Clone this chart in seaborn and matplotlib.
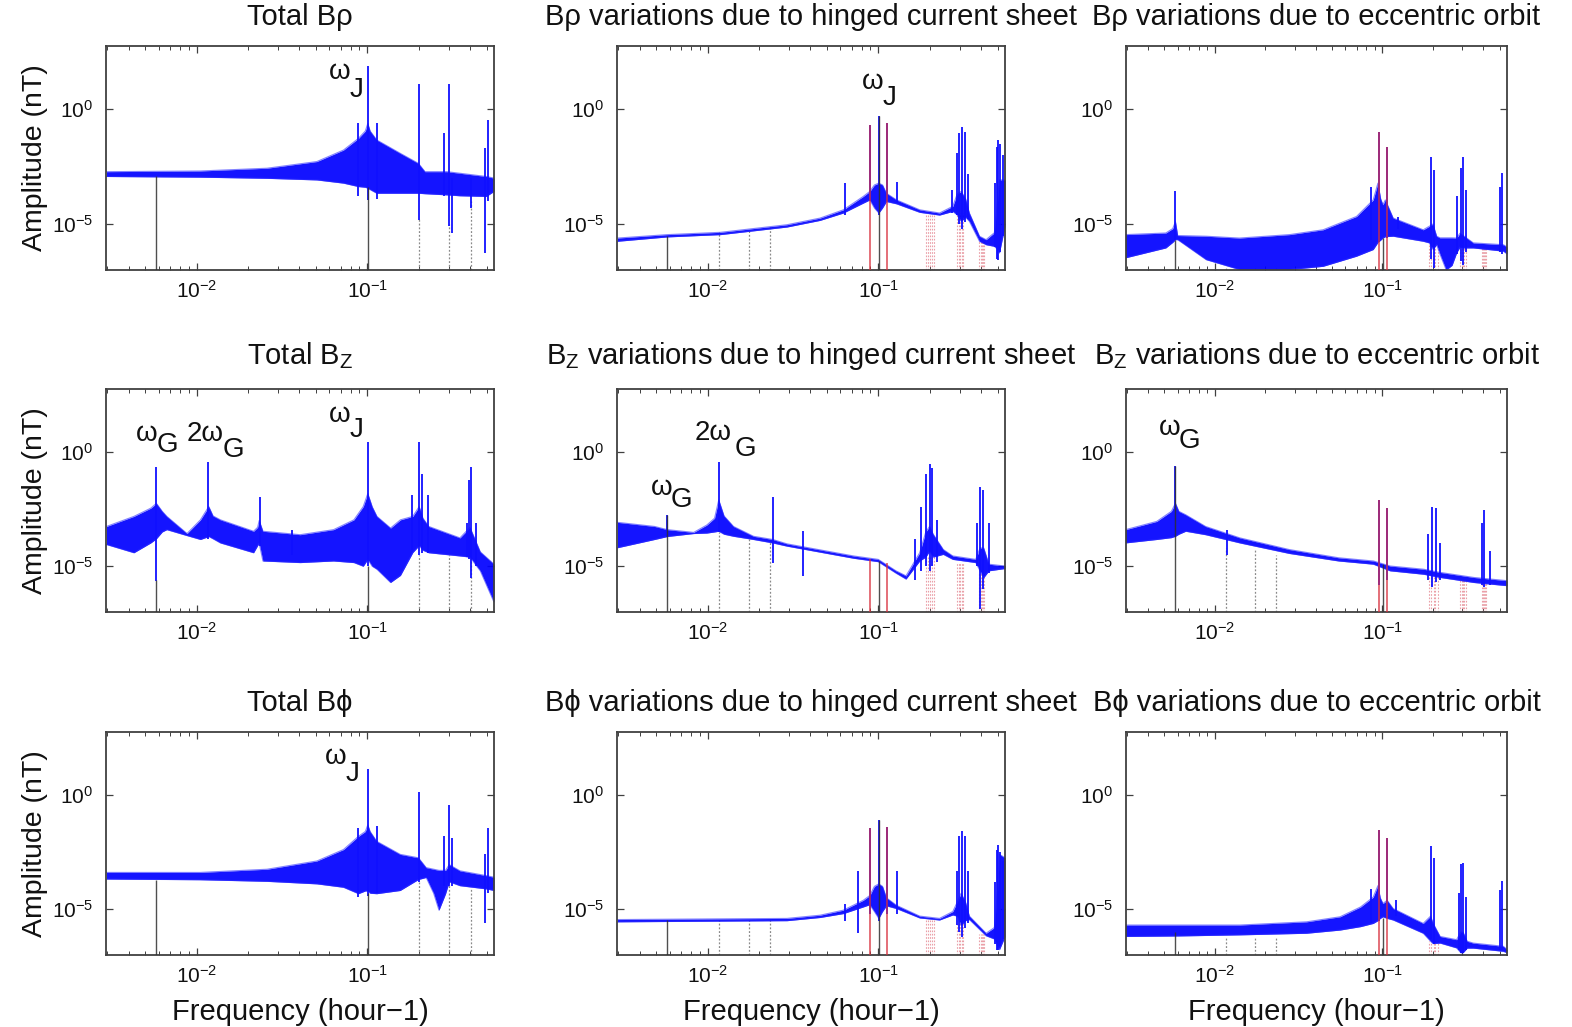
import numpy as np
import matplotlib
matplotlib.use("Agg")
import matplotlib.pyplot as plt
import seaborn as sns
from matplotlib.ticker import LogLocator, NullLocator, NullFormatter, FixedLocator

# ---------------- data (frequencies in hour^-1, amplitudes as log10(nT)) ----------------
W_G = 0.00582
W_J = 0.1008
C2 = [0.190, 0.196, 0.2016, 0.207, 0.213]
C3 = [0.291, 0.297, 0.3024, 0.308, 0.314]
C4 = [0.392, 0.398, 0.4032, 0.409, 0.415]

# Row 1 / col 1 : Total B_rho
F_11 = [0.00297, 0.0105, 0.0259, 0.0507, 0.0726, 0.0889, 0.0975, 0.1008, 0.104, 0.1137, 0.156, 0.1995, 0.218, 0.2926, 0.3494, 0.498, 0.553]
HI_11 = [-2.72, -2.69, -2.57, -2.28, -1.78, -1.27, -0.95, -0.62, -0.95, -1.34, -1.92, -2.36, -2.72, -2.72, -2.79, -2.93, -3.0]
LO_11 = [-2.93, -2.96, -3.01, -3.08, -3.22, -3.37, -3.40, -3.44, -3.5, -3.66, -3.66, -3.66, -3.68, -3.73, -3.77, -3.80, -3.58]
SF_11 = [0.0887, 0.1008, 0.1137, 0.2016, 0.2834, 0.3024, 0.3135, 0.4032, 0.491, 0.513]
ST_11 = [-0.62, 1.86, -0.58, 1.11, -1.05, 1.11, -3.0, -3.0, -1.71, -0.48]
SB_11 = [-3.80, -3.95, -3.9, -4.81, -3.8, -5.1, -5.4, -4.3, -6.26, -4.0]
BF_11 = [W_G, W_J]; BT_11 = [-2.9, -3.4]
DF_11 = [0.2016, 0.3024, 0.4032]; DT_11 = [-4.8, -5.0, -4.0]
RF_11 = []; RT_11 = []
RDF_11 = []; RDT_11 = []

# Row 1 / col 2 : B_rho hinged current sheet
F_12 = [0.00297, 0.00582, 0.0119, 0.0292, 0.0457, 0.0625, 0.0817, 0.0893, 0.095, 0.1008, 0.106, 0.1117, 0.128, 0.175, 0.2287, 0.2735, 0.29, 0.306, 0.325, 0.342, 0.392, 0.4285, 0.479, 0.50, 0.513, 0.553]
HI_12 = [-5.61, -5.46, -5.36, -5.03, -4.74, -4.38, -3.80, -3.58, -3.3, -3.22, -3.3, -3.66, -3.95, -4.38, -4.52, -4.23, -3.7, -3.58, -3.9, -4.52, -5.53, -5.68, -5.38, -4.0, -3.08, -3.08]
LO_12 = [-5.75, -5.56, -5.46, -5.13, -4.84, -4.52, -4.09, -3.95, -4.3, -4.52, -4.3, -4.02, -4.12, -4.49, -4.61, -4.45, -4.6, -4.88, -4.7, -4.88, -5.75, -5.90, -5.97, -6.1, -6.26, -5.1]
SF_12 = [0.0641, 0.0892, 0.1008, 0.1124, 0.129, 0.270, 0.290, 0.297, 0.309, 0.3226, 0.335, 0.485, 0.495, 0.505, 0.52, 0.535]
ST_12 = [-3.22, -0.69, -0.30, -0.59, -3.15, -3.5, -1.9, -1.05, -0.79, -0.98, -2.8, -3.2, -1.63, -1.34, -1.5, -2.0]
SB_12 = [-4.6, -4.0, -4.6, -4.0, -4.1, -4.5, -4.6, -5.0, -5.2, -4.9, -4.8, -6.0, -6.5, -6.55, -6.2, -5.5]
BF_12 = [W_G, W_J]; BT_12 = [-5.5, -0.30]
DF_12 = [0.01164, 0.01746, 0.02328]; DT_12 = [-5.36, -5.2, -5.1]
RF_12 = [0.0892, 0.1124]; RT_12 = [-0.69, -0.59]
RDF_12 = C2 + C3 + C4; RDT_12 = [-4.6] * 5 + [-4.5] * 5 + [-5.7] * 5

# Row 1 / col 3 : B_rho eccentric orbit
F_13 = [0.00293, 0.0051, 0.0056, 0.00582, 0.006, 0.00887, 0.014, 0.0279, 0.0442, 0.07, 0.088, 0.0939, 0.0975, 0.1006, 0.104, 0.1158, 0.175, 0.19, 0.2, 0.2104, 0.22, 0.24, 0.26, 0.2767, 0.29, 0.303, 0.348, 0.526, 0.553]
HI_13 = [-5.46, -5.39, -5.2, -4.9, -5.5, -5.53, -5.61, -5.46, -5.25, -4.67, -3.95, -3.22, -3.9, -4.16, -3.95, -4.74, -5.25, -5.1, -5.0, -5.53, -5.6, -5.6, -5.6, -5.61, -5.4, -5.5, -5.82, -5.90, -6.0]
LO_13 = [-6.47, -6.04, -5.8, -5.68, -5.68, -6.55, -6.98, -6.98, -6.84, -6.40, -6.11, -5.8, -5.7, -5.61, -5.55, -5.53, -5.75, -5.82, -6.1, -5.90, -6.3, -7.0, -6.8, -6.26, -6.0, -6.04, -6.04, -6.18, -6.3]
SF_13 = [0.00582, 0.0853, 0.095, 0.1066, 0.124, 0.1937, 0.2018, 0.2797, 0.293, 0.3026, 0.316, 0.50, 0.516]
ST_13 = [-3.58, -3.4, -0.98, -1.66, -4.7, -2.07, -2.64, -3.80, -2.57, -2.07, -3.51, -3.37, -2.79]
SB_13 = [-5.7, -5.7, -5.8, -5.6, -5.2, -6.5, -6.9, -6.3, -6.6, -6.8, -6.2, -6.2, -6.3]
BF_13 = [W_G, W_J]; BT_13 = [-5.7, -5.6]
DF_13 = [0.01164, 0.01746, 0.02328]; DT_13 = [-6.9, -6.9, -6.9]
RF_13 = [0.095, 0.1066]; RT_13 = [-0.98, -1.66]
RDF_13 = C2 + C3 + C4; RDT_13 = [-5.9] * 5 + [-6.0] * 5 + [-6.05] * 5

# Row 2 / col 1 : Total B_Z
F_21 = [0.00297, 0.0043, 0.0054, 0.00582, 0.0063, 0.0067, 0.0088, 0.01055, 0.0118, 0.0125, 0.0138, 0.0216, 0.0228, 0.0233, 0.0245, 0.0405, 0.0635, 0.0836, 0.0948, 0.1008, 0.107, 0.114, 0.137, 0.1566, 0.185, 0.2016, 0.212, 0.2294, 0.3494, 0.400, 0.4596, 0.553]
HI_21 = [-3.26, -2.82, -2.46, -2.25, -2.6, -2.82, -3.57, -2.97, -2.39, -2.8, -2.97, -3.47, -3.3, -3.0, -3.47, -3.62, -3.40, -2.97, -2.39, -1.82, -2.4, -2.82, -3.33, -2.97, -2.82, -2.39, -2.9, -3.26, -3.76, -3.3, -4.37, -4.91]
LO_21 = [-4.05, -4.41, -3.98, -3.8, -3.5, -3.40, -3.66, -3.83, -3.7, -3.8, -3.98, -4.41, -4.1, -4.0, -4.77, -4.84, -4.77, -4.84, -5.0, -4.7, -5.0, -5.13, -5.71, -5.4, -4.4, -4.1, -4.3, -4.41, -4.55, -4.6, -5.2, -6.57]
SF_21 = [0.00582, 0.01164, 0.0237, 0.0363, 0.1008, 0.1841, 0.2016, 0.2094, 0.2265, 0.384, 0.396, 0.4032, 0.4366]
ST_21 = [-0.66, -0.45, -1.96, -3.40, 0.42, -1.89, 0.42, -0.95, -1.89, -3.11, -1.24, -0.66, -3.11]
SB_21 = [-5.63, -3.8, -4.1, -4.5, -5.0, -4.3, -4.5, -4.4, -4.4, -4.6, -4.7, -5.5, -5.0]
BF_21 = [W_G, W_J]; BT_21 = [-5.6, -5.0]
DF_21 = [0.2016, 0.3024, 0.4032]; DT_21 = [-4.5, -4.5, -4.6]
RF_21 = []; RT_21 = []
RDF_21 = []; RDT_21 = []

# Row 2 / col 2 : B_Z hinged current sheet
F_22 = [0.00297, 0.0049, 0.00582, 0.0083, 0.0099, 0.011, 0.01164, 0.0125, 0.0142, 0.0186, 0.0241, 0.0292, 0.0717, 0.1, 0.127, 0.1455, 0.175, 0.19, 0.2, 0.21, 0.2406, 0.2735, 0.3728, 0.395, 0.415, 0.445, 0.553]
HI_22 = [-3.08, -3.26, -3.4, -3.52, -3.2, -2.9, -2.10, -2.8, -3.26, -3.69, -3.83, -4.02, -4.55, -4.70, -5.2, -5.42, -4.41, -3.5, -3.26, -3.6, -4.27, -4.55, -4.70, -4.2, -4.2, -4.91, -4.99]
LO_22 = [-4.19, -3.83, -3.7, -3.57, -3.55, -3.5, -3.47, -3.6, -3.69, -3.83, -3.98, -4.12, -4.65, -4.80, -5.30, -5.56, -4.77, -4.6, -4.34, -4.6, -4.48, -4.70, -4.84, -5.2, -5.5, -5.20, -5.10]
SF_22 = [0.00582, 0.01164, 0.0241, 0.0362, 0.164, 0.1792, 0.19, 0.2, 0.2055, 0.2211, 0.379, 0.396, 0.41, 0.445]
ST_22 = [-2.75, -0.45, -1.96, -3.47, -3.8, -2.39, -0.95, -0.52, -0.69, -2.96, -3.11, -1.53, -1.67, -3.11]
SB_22 = [-3.7, -3.5, -4.84, -5.42, -5.6, -5.2, -5.0, -5.2, -5.0, -4.8, -5.0, -6.85, -6.0, -5.3]
BF_22 = [W_G, W_J]; BT_22 = [-2.75, -4.75]
DF_22 = [0.01164, 0.01746, 0.02328]; DT_22 = [-3.5, -3.8, -3.95]
RF_22 = [0.0892, 0.1124]; RT_22 = [-4.7, -4.85]
RDF_22 = C2 + C3 + C4; RDT_22 = [-4.6] * 5 + [-4.8] * 5 + [-5.3] * 5

# Row 2 / col 3 : B_Z eccentric orbit
F_23 = [0.00293, 0.0045, 0.0055, 0.00582, 0.0061, 0.0067, 0.0088, 0.0141, 0.0278, 0.0548, 0.0882, 0.111, 0.176, 0.2208, 0.3506, 0.553]
HI_23 = [-3.40, -3.04, -2.6, -2.25, -2.6, -2.75, -3.26, -3.76, -4.27, -4.63, -4.77, -4.99, -5.13, -5.27, -5.49, -5.63]
LO_23 = [-3.98, -3.83, -3.75, -3.69, -3.6, -3.47, -3.62, -3.98, -4.44, -4.77, -4.91, -5.20, -5.35, -5.49, -5.71, -5.85]
SF_23 = [0.00582, 0.0118, 0.095, 0.1066, 0.186, 0.197, 0.2097, 0.22, 0.3896, 0.4034, 0.435]
ST_23 = [-0.63, -3.4, -2.10, -2.46, -3.6, -2.39, -2.46, -3.97, -3.11, -2.54, -4.33]
SB_23 = [-3.7, -4.5, -5.8, -5.6, -5.6, -5.9, -5.7, -5.6, -5.8, -5.9, -5.8]
BF_23 = [W_G, W_J]; BT_23 = [-0.63, -4.9]
DF_23 = [0.01164, 0.01746, 0.02328]; DT_23 = [-4.2, -4.3, -4.5]
RF_23 = [0.095, 0.1066]; RT_23 = [-2.10, -2.46]
RDF_23 = C2 + C3 + C4; RDT_23 = [-5.4] * 5 + [-5.6] * 5 + [-5.7] * 5

# Row 3 / col 1 : Total B_phi
F_31 = [0.00297, 0.0105, 0.0259, 0.0507, 0.0726, 0.0889, 0.0975, 0.1008, 0.104, 0.1137, 0.156, 0.1995, 0.2215, 0.245, 0.2633, 0.2878, 0.3024, 0.3494, 0.498, 0.553]
HI_31 = [-3.39, -3.39, -3.25, -2.89, -2.39, -1.81, -1.6, -1.31, -1.6, -2.03, -2.60, -2.75, -3.18, -3.25, -3.3, -3.3, -3.05, -3.32, -3.53, -3.6]
LO_31 = [-3.68, -3.71, -3.78, -3.89, -4.04, -4.32, -4.2, -4.2, -4.3, -4.32, -4.18, -3.7, -3.61, -4.3, -5.04, -4.32, -3.8, -3.97, -4.11, -4.18]
SF_31 = [0.0887, 0.1008, 0.1137, 0.2016, 0.2834, 0.3024, 0.3135, 0.491, 0.513]
ST_31 = [-1.45, 1.14, -1.38, 0.13, -1.81, -0.45, -1.88, -2.60, -1.45]
SB_31 = [-4.45, -4.4, -4.3, -3.8, -4.0, -4.0, -4.0, -5.62, -4.3]
BF_31 = [W_G, W_J]; BT_31 = [-3.7, -4.3]
DF_31 = [0.2016, 0.3024, 0.4032]; DT_31 = [-3.8, -3.9, -4.1]
RF_31 = []; RT_31 = []
RDF_31 = []; RDT_31 = []

# Row 3 / col 2 : B_phi hinged current sheet
F_32 = [0.00297, 0.0292, 0.0457, 0.0625, 0.0817, 0.0893, 0.095, 0.1008, 0.106, 0.1117, 0.128, 0.175, 0.2287, 0.2735, 0.29, 0.306, 0.325, 0.342, 0.4285, 0.479, 0.50, 0.513, 0.553]
HI_32 = [-5.45, -5.40, -5.26, -5.04, -4.61, -4.40, -4.0, -3.89, -4.0, -4.5, -4.83, -5.3, -5.40, -5.1, -4.7, -4.3, -4.7, -5.3, -6.05, -5.8, -4.2, -2.60, -2.75]
LO_32 = [-5.55, -5.50, -5.36, -5.19, -4.90, -4.8, -5.1, -5.40, -5.1, -4.85, -4.97, -5.38, -5.47, -5.25, -5.3, -5.7, -5.5, -5.45, -6.16, -6.3, -6.6, -6.77, -6.2]
SF_32 = [0.0641, 0.0763, 0.0892, 0.1008, 0.1124, 0.128, 0.29, 0.297, 0.309, 0.3226, 0.335, 0.485, 0.495, 0.505, 0.52, 0.535]
ST_32 = [-4.75, -3.33, -1.45, -1.09, -1.42, -3.33, -3.33, -1.81, -1.59, -1.81, -3.33, -3.8, -2.39, -2.2, -2.5, -2.9]
SB_32 = [-5.5, -6.05, -5.2, -5.5, -5.2, -5.2, -5.7, -6.0, -6.2, -5.8, -5.6, -6.5, -6.77, -6.77, -6.6, -6.3]
BF_32 = [W_G, W_J]; BT_32 = [-5.45, -1.09]
DF_32 = [0.01164, 0.01746, 0.02328]; DT_32 = [-5.45, -5.45, -5.43]
RF_32 = [0.0892, 0.1124]; RT_32 = [-1.45, -1.42]
RDF_32 = C2 + C3 + C4; RDT_32 = [-5.4] * 5 + [-5.5] * 5 + [-6.1] * 5

# Row 3 / col 3 : B_phi eccentric orbit
F_33 = [0.00293, 0.00582, 0.0141, 0.0352, 0.0558, 0.074, 0.088, 0.0939, 0.097, 0.1006, 0.1066, 0.1158, 0.175, 0.1937, 0.2, 0.2208, 0.2767, 0.293, 0.3026, 0.32, 0.348, 0.526, 0.553]
HI_33 = [-5.69, -5.69, -5.69, -5.55, -5.33, -4.90, -4.47, -3.97, -4.5, -4.75, -4.61, -4.97, -5.62, -5.3, -5.6, -6.19, -6.33, -6.0, -6.0, -6.4, -6.48, -6.62, -6.76]
LO_33 = [-6.19, -6.17, -6.12, -6.05, -5.91, -5.76, -5.62, -5.5, -5.4, -5.33, -5.4, -5.47, -6.05, -6.4, -6.5, -6.48, -6.69, -6.9, -6.9, -6.7, -6.70, -6.84, -6.9]
SF_33 = [0.0853, 0.095, 0.1066, 0.121, 0.1937, 0.2018, 0.287, 0.293, 0.3026, 0.3162, 0.50, 0.516]
ST_33 = [-4.1, -1.52, -1.88, -4.6, -2.24, -2.74, -4.3, -3.03, -2.96, -4.45, -4.15, -3.75]
SB_33 = [-5.6, -5.5, -5.4, -5.3, -6.3, -6.5, -6.8, -6.9, -6.9, -6.8, -6.8, -6.8]
BF_33 = [W_G, W_J]; BT_33 = [-6.0, -5.4]
DF_33 = [0.01164, 0.01746, 0.02328]; DT_33 = [-6.2, -6.2, -6.2]
RF_33 = [0.095, 0.1066]; RT_33 = [-1.52, -1.88]
RDF_33 = C2; RDT_33 = [-6.4] * 5

TITLES = [
    ["Total Bρ", "Bρ variations due to hinged current sheet", "Bρ variations due to eccentric orbit"],
    ["Total B$_{Z}$", "B$_{Z}$ variations due to hinged current sheet", "B$_{Z}$ variations due to eccentric orbit"],
    ["Total Bϕ", "Bϕ variations due to hinged current sheet", "Bϕ variations due to eccentric orbit"],
]
TITLE_PAD = [15, 18, 15]
XTICKS = [1e-2, 1e-1]
YTICKS = [1e-5, 1e0]
XLIM = (0.00295, 0.553)
YLIM_LOG = (-7.0, 2.75)

# annotation labels: (main text, subscript, main x,y px, sub x,y px)
ANNOT = [
    ("ω", "J", 340, 72, 357, 90),
    ("ω", "J", 873, 82, 890, 98),
    ("ω", "G", 147, 434, 167, 445),
    ("2ω", "G", 205, 434, 233, 450),
    ("ω", "J", 340, 415, 357, 430),
    ("2ω", "G", 713, 433, 745, 449),
    ("ω", "G", 662, 488, 681, 500),
    ("ω", "G", 1170, 428, 1189, 441),
    ("ω", "J", 336, 757, 353, 774),
]

# ---------------- style ----------------
sns.set_theme(style="ticks")
plt.rcParams['font.family'] = ['Liberation Sans', 'DejaVu Sans']
plt.rcParams['mathtext.fontset'] = 'custom'
plt.rcParams['mathtext.rm'] = 'Liberation Sans'
plt.rcParams['mathtext.it'] = 'Liberation Sans:italic'
plt.rcParams['mathtext.default'] = 'regular'

W, H = 1572, 1027
fig = plt.figure(figsize=(W / 100, H / 100), dpi=100)
fig.patch.set_facecolor('white')

COL_X = [(106, 494), (617, 1005), (1126, 1507)]
ROW_Y = [(46, 270), (389, 612), (732, 955)]

panels = {
    (0, 0): (F_11, HI_11, LO_11, SF_11, ST_11, SB_11, BF_11, BT_11, DF_11, DT_11, RF_11, RT_11, RDF_11, RDT_11),
    (0, 1): (F_12, HI_12, LO_12, SF_12, ST_12, SB_12, BF_12, BT_12, DF_12, DT_12, RF_12, RT_12, RDF_12, RDT_12),
    (0, 2): (F_13, HI_13, LO_13, SF_13, ST_13, SB_13, BF_13, BT_13, DF_13, DT_13, RF_13, RT_13, RDF_13, RDT_13),
    (1, 0): (F_21, HI_21, LO_21, SF_21, ST_21, SB_21, BF_21, BT_21, DF_21, DT_21, RF_21, RT_21, RDF_21, RDT_21),
    (1, 1): (F_22, HI_22, LO_22, SF_22, ST_22, SB_22, BF_22, BT_22, DF_22, DT_22, RF_22, RT_22, RDF_22, RDT_22),
    (1, 2): (F_23, HI_23, LO_23, SF_23, ST_23, SB_23, BF_23, BT_23, DF_23, DT_23, RF_23, RT_23, RDF_23, RDT_23),
    (2, 0): (F_31, HI_31, LO_31, SF_31, ST_31, SB_31, BF_31, BT_31, DF_31, DT_31, RF_31, RT_31, RDF_31, RDT_31),
    (2, 1): (F_32, HI_32, LO_32, SF_32, ST_32, SB_32, BF_32, BT_32, DF_32, DT_32, RF_32, RT_32, RDF_32, RDT_32),
    (2, 2): (F_33, HI_33, LO_33, SF_33, ST_33, SB_33, BF_33, BT_33, DF_33, DT_33, RF_33, RT_33, RDF_33, RDT_33),
}

ymin = 10 ** YLIM_LOG[0]
for (r, c), (f, hi, lo, sf, st, sb, bf, bt, df, dt, rf, rt, rdf, rdt) in panels.items():
    x0, x1 = COL_X[c]
    y0, y1 = ROW_Y[r]
    ax = fig.add_axes([x0 / W, 1 - y1 / H, (x1 - x0) / W, (y1 - y0) / H])
    ax.set_xscale('log')
    ax.set_yscale('log')
    ax.set_facecolor('white')

    f = np.array(f)
    hi = 10 ** np.array(hi)
    lo = 10 ** np.array(lo)
    if len(df):
        ax.vlines(df, ymin, 10 ** np.array(dt), colors='#8a8a8a', linestyles=(0, (1.5, 1.5)), lw=0.9, zorder=1)
    if len(rdf):
        ax.vlines(rdf, ymin, 10 ** np.array(rdt), colors='#eaa0a8', linestyles=(0, (1.5, 1.5)), lw=0.8, zorder=1)
    ax.fill_between(f, lo, hi, color='#0000ff', lw=0, alpha=0.92, zorder=2)
    sns.lineplot(x=f, y=hi, ax=ax, color='#3030ff', lw=0.8, alpha=0.6, estimator=None, sort=False, zorder=2.1)
    sns.lineplot(x=f, y=lo, ax=ax, color='#3030ff', lw=0.8, alpha=0.6, estimator=None, sort=False, zorder=2.1)
    ax.vlines(sf, 10 ** np.array(sb), 10 ** np.array(st), colors='#1010ff', lw=1.3, zorder=3)
    ax.vlines(bf, ymin, 10 ** np.array(bt), colors='#303030', lw=1.0, alpha=0.85, zorder=3.5)
    if len(rf):
        ax.vlines(rf, ymin, 10 ** np.array(rt), colors='#d8303c', lw=1.3, alpha=0.75, zorder=4)

    ax.set_xlim(*XLIM)
    ax.set_ylim(10 ** YLIM_LOG[0], 10 ** YLIM_LOG[1])
    ax.xaxis.set_major_locator(FixedLocator(XTICKS))
    ax.xaxis.set_minor_locator(LogLocator(base=10, subs=np.arange(2, 10)))
    ax.xaxis.set_minor_formatter(NullFormatter())
    ax.yaxis.set_major_locator(FixedLocator(YTICKS))
    ax.yaxis.set_minor_locator(NullLocator())
    ax.tick_params(which='both', direction='in', top=True, right=True, color='#404040')
    ax.tick_params(which='major', length=5, width=0.9, labelsize=15, labelcolor='#111111')
    ax.tick_params(which='minor', length=3, width=0.7)
    ax.tick_params(axis='y', pad=9)
    ax.tick_params(axis='x', pad=7)
    for sp in ax.spines.values():
        sp.set_color('#404040')
        sp.set_linewidth(1.3)
    ax.set_title(TITLES[r][c], fontsize=21, pad=TITLE_PAD[r], color='#111111')
    if c == 0:
        ax.set_ylabel('Amplitude (nT)', fontsize=20.5, labelpad=3, color='#111111')
    else:
        ax.set_ylabel('')
    if r == 2:
        ax.set_xlabel('Frequency (hour−1)', fontsize=21, labelpad=8, color='#111111')
    else:
        ax.set_xlabel('')

for main, sub, mx, my, sx, sy in ANNOT:
    fig.text(mx / W, 1 - my / H, main, fontsize=20, ha='center', va='center', color='#111111')
    fig.text(sx / W, 1 - sy / H, sub, fontsize=20, ha='center', va='center', color='#111111')

fig.savefig('out.png', dpi=100, facecolor='white')
